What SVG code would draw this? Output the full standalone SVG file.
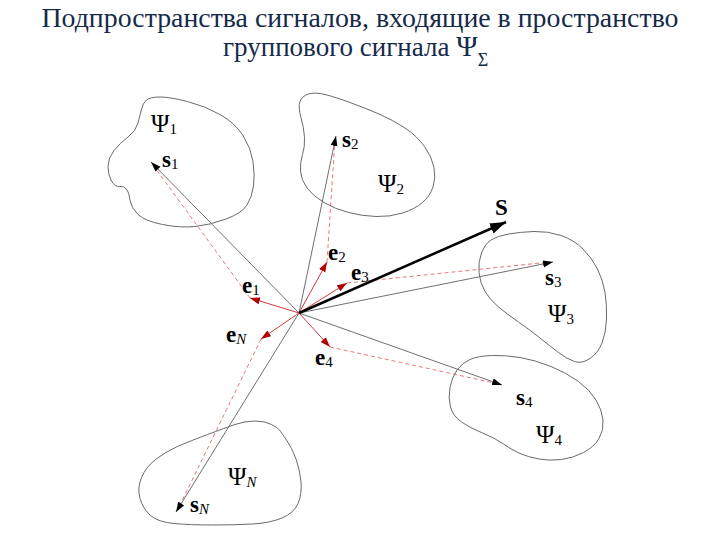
<svg xmlns="http://www.w3.org/2000/svg" width="720" height="540" viewBox="0 0 720 540">
<style>
.serif{font-family:"Liberation Serif","Times New Roman","DejaVu Serif","Noto Serif",serif}
.title{font-size:27px;fill:#16294a}
.blob{fill:none;stroke:#6a6a6a;stroke-width:1}
.psi{font-size:25px;fill:#000}
.vec{font-size:23px;font-weight:bold;fill:#000}
.sub{font-size:15px;font-weight:normal}
.it{font-style:italic}
.gray{stroke:#707070;stroke-width:1;fill:none;marker-end:url(#blk)}
.red{stroke:#d23a3a;stroke-width:1;fill:none;marker-end:url(#redarr)}
.dash{stroke:#e47a7a;stroke-width:1;fill:none;stroke-dasharray:4,3}
.big{stroke:#000;stroke-width:2.5;fill:none;marker-end:url(#bigarr)}
</style>
<defs>
<marker id="blk" markerUnits="userSpaceOnUse" markerWidth="12" markerHeight="10" refX="10" refY="3.5" orient="auto"><path d="M0,0 L10,3.5 L0,7 z" fill="#000"/></marker>
<marker id="redarr" markerUnits="userSpaceOnUse" markerWidth="12" markerHeight="10" refX="10" refY="3.5" orient="auto"><path d="M0,0 L10,3.5 L0,7 z" fill="#b00000"/></marker>
<marker id="bigarr" markerUnits="userSpaceOnUse" markerWidth="18" markerHeight="14" refX="16" refY="5.5" orient="auto"><path d="M0,0 L16,5.5 L0,11 z" fill="#000"/></marker>
</defs>
<rect width="720" height="540" fill="#fff"/>
<g id="title">
<text class="serif title" x="360" y="27" text-anchor="middle" textLength="637" lengthAdjust="spacingAndGlyphs">Подпространства сигналов, входящие в пространство</text>
<text class="serif title" x="223" y="56">группового сигнала <tspan font-size="29">Ψ</tspan><tspan font-size="18" dy="10">Σ</tspan></text>
</g>

<g id="connectors">
<line class="dash" x1="250" y1="298" x2="153" y2="165"/>
<line class="dash" x1="327" y1="262" x2="335" y2="139"/>
<line class="dash" x1="347" y1="283" x2="550" y2="262"/>
<line class="dash" x1="330" y1="347" x2="499" y2="384"/>
<line class="dash" x1="261" y1="339" x2="178" y2="509"/>
<line class="gray" x1="299" y1="313" x2="151" y2="162"/>
<line class="gray" x1="299" y1="313" x2="336" y2="136"/>
<line class="gray" x1="299" y1="313" x2="553" y2="262"/>
<line class="gray" x1="299" y1="313" x2="502" y2="385"/>
<line class="gray" x1="299" y1="313" x2="176" y2="512"/>
<line class="red" x1="299" y1="313" x2="250" y2="298"/>
<line class="red" x1="299" y1="313" x2="327" y2="262"/>
<line class="red" x1="299" y1="313" x2="347" y2="283"/>
<line class="red" x1="299" y1="313" x2="261" y2="339"/>
<line class="red" x1="299" y1="313" x2="330" y2="347"/>
<line class="big" x1="299" y1="313" x2="506" y2="222"/>
</g>

<g id="psi1">
<path class="blob" d="M 146.5,100 Q 150,97 160,97 Q 170,97 187.5,101.5 Q 205,106 220,114.5 Q 235,123 243,135.5 Q 251,148 253,161.5 Q 255,175 253.5,186 Q 252,197 247,205 Q 242,213 226,219 Q 210,225 195,226.5 Q 180,228 162.5,224.5 Q 145,221 138,214.5 Q 131,208 130,200 Q 129,192 126.5,189 Q 124,186 119.5,186.5 Q 115,187 111.5,181 Q 108,175 108,166.5 Q 108,158 114,150.5 Q 120,143 128,137 Q 136,131 138,123 Q 140,115 141.5,109 Q 143,103 146.5,100 Z"/>
<text class="serif psi" x="151" y="132">Ψ<tspan class="sub" dy="2">1</tspan></text>
<text class="serif vec" x="162" y="167">s<tspan class="sub" dy="2">1</tspan></text>
</g>

<g id="psi2">
<path class="blob" d="M 300,101.5 Q 302,96 308.5,94 Q 315,92 325,94.5 Q 335,97 350,102.5 Q 365,108 379,114 Q 393,120 405,128 Q 417,136 424.5,146.5 Q 432,157 434,167.5 Q 436,178 433,187 Q 430,196 422.5,202.5 Q 415,209 402.5,213 Q 390,217 376,216.5 Q 362,216 348.5,212.5 Q 335,209 324,202.5 Q 313,196 307,188 Q 301,180 300.5,171 Q 300,162 302.5,154.5 Q 305,147 304.5,137.5 Q 304,128 301,117.5 Q 298,107 300,101.5 Z"/>
<text class="serif psi" x="378" y="192">Ψ<tspan class="sub" dy="2">2</tspan></text>
<text class="serif vec" x="342" y="147">s<tspan class="sub" dy="2">2</tspan></text>
</g>

<g id="psi3">
<path class="blob" d="M 491,240 Q 497,236 508.5,234 Q 520,232 534,231.5 Q 548,231 561,235.5 Q 574,240 583,249 Q 592,258 597.5,269 Q 603,280 605,292.5 Q 607,305 606.5,319 Q 606,333 602,343 Q 598,353 590,358.5 Q 582,364 574.5,361.5 Q 567,359 558.5,352.5 Q 550,346 540,338 Q 530,330 518.5,322 Q 507,314 498.5,307 Q 490,300 485,291.5 Q 480,283 479,272.5 Q 478,262 481.5,253 Q 485,244 491,240 Z"/>
<text class="serif psi" x="548" y="322">Ψ<tspan class="sub" dy="2">3</tspan></text>
<text class="serif vec" x="545" y="285">s<tspan class="sub" dy="2">3</tspan></text>
</g>

<g id="psi4">
<path class="blob" d="M 457,370 Q 462,363 470,359.5 Q 478,356 491.5,355.5 Q 505,355 520,357.5 Q 535,360 551,366.5 Q 567,373 578.5,381.5 Q 590,390 596,400 Q 602,410 603,420 Q 604,430 599,438.5 Q 594,447 583.5,452.5 Q 573,458 561.5,459.5 Q 550,461 539,459 Q 528,457 520,453.5 Q 512,450 503.5,444 Q 495,438 482.5,433 Q 470,428 461.5,422 Q 453,416 450.5,407 Q 448,398 450,387.5 Q 452,377 457,370 Z"/>
<text class="serif psi" x="536" y="443">Ψ<tspan class="sub" dy="2">4</tspan></text>
<text class="serif vec" x="516" y="405">s<tspan class="sub" dy="2">4</tspan></text>
</g>

<g id="psiN">
<path class="blob" d="M 177.5,446.5 Q 190,441 207.5,434.5 Q 225,428 235,424.5 Q 245,421 255,421 Q 265,421 271.5,424.5 Q 278,428 279.5,430 Q 281,432 286.5,440 Q 292,448 296,459 Q 300,470 301,482 Q 302,494 298,503.5 Q 294,513 282,518 Q 270,523 252.5,524 Q 235,525 212.5,525 Q 190,525 174,523.5 Q 158,522 150.5,515.5 Q 143,509 140,498.5 Q 137,488 141.5,477.5 Q 146,467 155.5,459.5 Q 165,452 177.5,446.5 Z"/>
<text class="serif psi" x="228" y="485">Ψ<tspan class="sub it" dy="2">N</tspan></text>
<text class="serif vec" x="190" y="512">s<tspan class="sub it" dy="2">N</tspan></text>
</g>

<g id="e1"><text class="serif vec" x="242" y="293">e<tspan class="sub" dy="2">1</tspan></text></g>
<g id="e2"><text class="serif vec" x="328" y="260">e<tspan class="sub" dy="2">2</tspan></text></g>
<g id="e3"><text class="serif vec" x="351" y="280">e<tspan class="sub" dy="2">3</tspan></text></g>
<g id="e4"><text class="serif vec" x="315" y="365">e<tspan class="sub" dy="2">4</tspan></text></g>
<g id="eN"><text class="serif vec" x="226" y="342">e<tspan class="sub it" dy="2">N</tspan></text></g>
<g id="S"><text class="serif vec" x="495" y="215" font-size="24">S</text></g>
</svg>
